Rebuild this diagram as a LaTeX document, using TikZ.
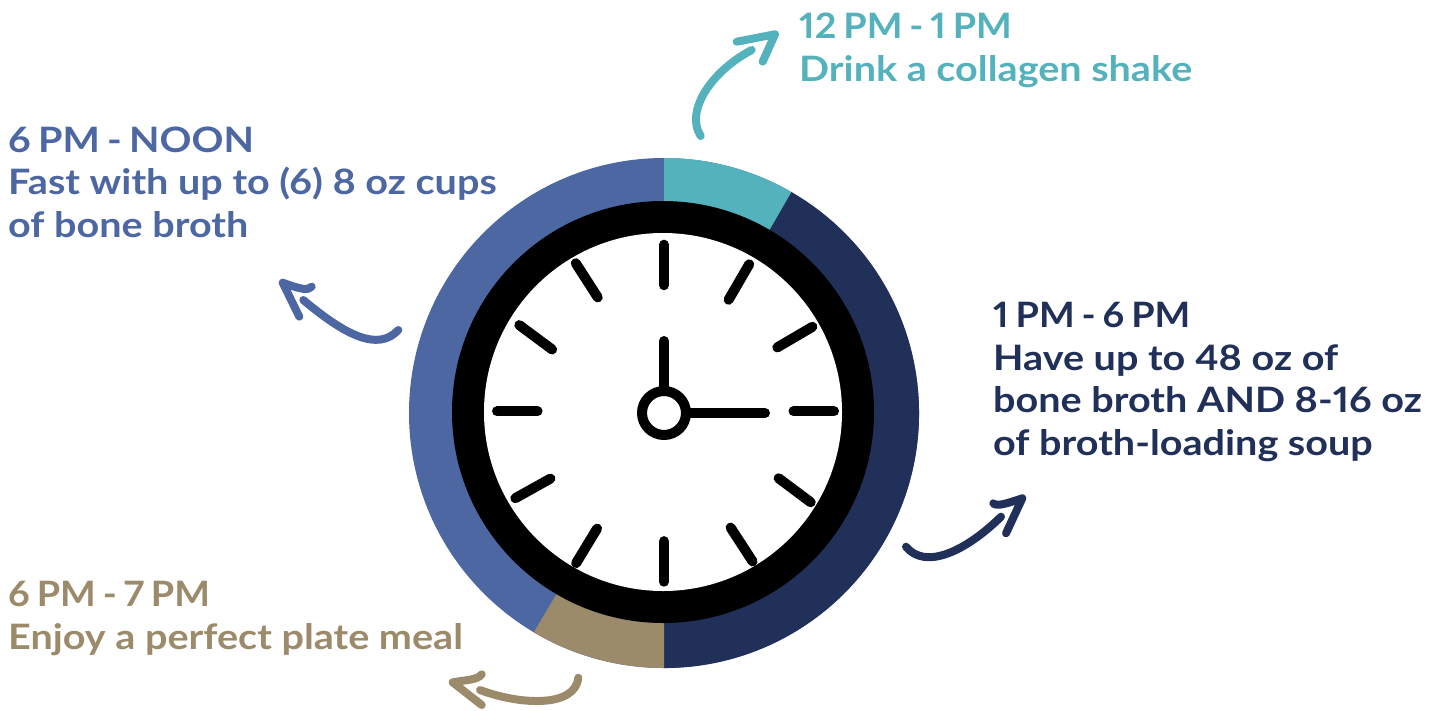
\documentclass[tikz,border=0pt]{standalone}
\usepackage{fontspec}
\setmainfont{Lato}[FakeStretch=1.13,Numbers=Proportional]
\newfontfamily\headfont{Lato}[FakeStretch=1.08,WordSpace=0.75,Numbers=Proportional]
\newfontfamily\nooninfont{Lato}[FakeStretch=1.13,WordSpace=0.75,Numbers=Proportional]
\definecolor{cblue}{HTML}{4C67A1}
\definecolor{cteal}{HTML}{54B2BC}
\definecolor{cnavy}{HTML}{203058}
\definecolor{ctan}{HTML}{9C8B6B}
\tikzset{
  lbl/.style={anchor=base west,inner sep=0pt,align=left,font=\fontsize{35}{42.5}\selectfont\bfseries},
  curvy/.style={line width=8pt,line cap=round,line join=round},
  tick/.style={line width=10pt,line cap=round,black},
}
\begin{document}
\begin{tikzpicture}[x=1pt,y=-1pt]
\useasboundingbox (0,0) rectangle (1437,710);
% ring
\coordinate (c) at (664,413);
\fill[cblue] (c) circle[radius=255];
\fill[cteal] (c) -- (664,158) arc[start angle=-90,end angle=-60,radius=255] -- cycle;
\fill[cnavy] (c) -- (791.5,192.2) arc[start angle=-60,end angle=90,radius=255] -- cycle;
\fill[ctan] (c) -- (664,668) arc[start angle=90,end angle=120.7,radius=255] -- cycle;
\fill[black] (663,412) circle[radius=211];
\fill[white] (663,412) circle[radius=179];
% ticks (in zoom units)
\begin{scope}[x=0.33806pt,y=-0.33806pt,shift={(1183.2,443.7)}]
\foreach \a/\b/\c/\d in {781/280/781/400,1033/338/972/443,1220/523/1116/584,1164/773/1284/773,1120/971/1215/1042,978/1117/1043/1217,781/1157/781/1277,583/1120/521/1222,445/972/341/1030,287/773/407/773,353/518/450/590,520/335/585/436}
  \draw[tick] (\a,\b) -- (\c,\d);
\end{scope}
% hands
\draw[tick] (664,341) -- (664,392);
\draw[tick] (687,413) -- (765,413);
\draw[black,line width=10pt,fill=white] (664,413) circle[radius=22];
% arrows
\draw[curvy,cteal] (700.7,136) .. controls (685,112) and (710,72) .. (751.7,50);
\draw[curvy,cteal] (736.7,41.7) -- (775,34.3) -- (762.7,61.7);
\draw[curvy,cblue] (398.3,330) .. controls (378,352) and (345,335) .. (303.3,300);
\draw[curvy,cblue] (311.7,286.7) .. controls (308,291) and (300,289) .. (282.7,282.7) -- (299.3,316.7);
\draw[curvy,ctan] (578.3,677.7) .. controls (575,708) and (520,705) .. (480,690);
\draw[curvy,ctan] (481.7,674.3) .. controls (478,680) and (465,680) .. (452.7,682.3) -- (481.7,705);
\draw[curvy,cnavy] (906,546.7) .. controls (925,570) and (965,552) .. (1001,516.7);
\draw[curvy,cnavy] (993.3,503.3) .. controls (997,507) and (1008,503) .. (1022.3,498.3) -- (1006,533.3);
% labels
\node[lbl,text=cteal] (tteal) at (799,81) {{\headfont 12 PM - 1 PM}\\Drink a collagen shake};
\node[lbl,text=cblue] (tblue) at (8,237) {{\nooninfont 6 PM - NOON}\\Fast with up to (6) 8 oz cups\\of bone broth};
\node[lbl,text=cnavy] (tnavy) at (993,455) {{\headfont 1 PM - 6 PM}\\Have up to 48 oz of\\bone broth AND 8-16 oz\\of broth-loading soup};
\node[lbl,text=ctan] (ttan) at (8,649) {{\headfont 6 PM - 7 PM}\\Enjoy a perfect plate meal};
\end{tikzpicture}
\end{document}
